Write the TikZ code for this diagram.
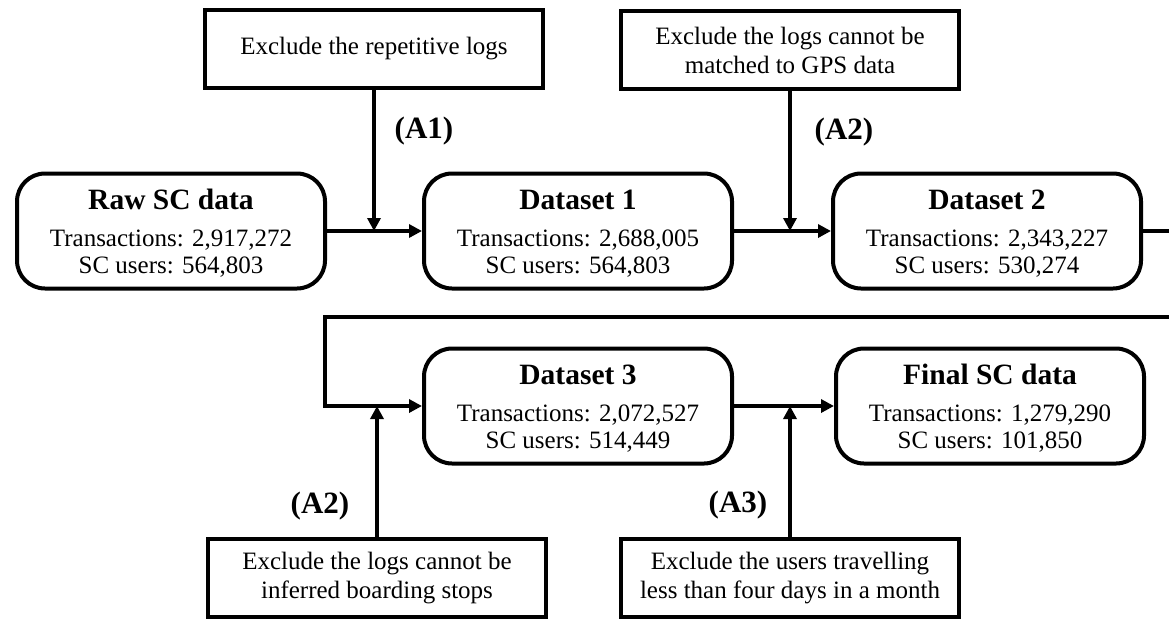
\documentclass[tikz,border=0pt]{standalone}
\usepackage{fontspec}
\setmainfont{Liberation Serif}
\usetikzlibrary{arrows.meta}
% heading line of a stage box, with a strut that sets the space above it
\newcommand{\stagehead}[1]{\rule{0pt}{25.5pt}{\fontsize{29.5}{31}\selectfont\bfseries #1}}
\begin{document}
\begin{tikzpicture}[x=1pt,y=-1pt,
  stage/.style={draw,line width=4pt,rounded corners=28pt,minimum width=308pt,
    minimum height=115pt,align=center,inner sep=0pt,font=\fontsize{25}{27}\selectfont},
  rule/.style={draw,line width=4pt,minimum width=338pt,minimum height=78pt,
    align=center,inner sep=0pt,font=\fontsize{25}{29}\selectfont},
  tag/.style={font=\bfseries\fontsize{31}{33}\selectfont},
  link/.style={line width=4pt},
  arr/.style={link,-{Triangle[length=13pt,width=13pt]}}]
\useasboundingbox (0,0) rectangle (1169,619);
\clip (0,0) rectangle (1169,619);

% data stages
\node[stage] (raw) at (171,231) {\stagehead{Raw SC data}\\[10pt]
  Transactions: 2,917,272\\ SC users: 564,803};
\node[stage] (d1) at (578,231) {\stagehead{Dataset 1}\\[10pt]
  Transactions: 2,688,005\\ SC users: 564,803};
\node[stage] (d2) at (987,231) {\stagehead{Dataset 2}\\[10pt]
  Transactions: 2,343,227\\ SC users: 530,274};
\node[stage] (d3) at (578,406) {\stagehead{Dataset 3}\\[10pt]
  Transactions: 2,072,527\\ SC users: 514,449};
\node[stage] (fin) at (990,406) {\stagehead{Final SC data}\\[10pt]
  Transactions: 1,279,290\\ SC users: 101,850};

% exclusion rules
\node[rule] (t1) at (374,49) {Exclude the repetitive logs};
\node[rule] (t2) at (790,50) {Exclude the logs cannot be\\matched to GPS data};
\node[rule] (b1) at (377,578) {Exclude the logs cannot be\\inferred boarding stops};
\node[rule] (b2) at (790,578) {Exclude the users travelling\\less than four days in a month};

% step labels
\node[tag] (la1) at (424,131) {(A1)};
\node[tag] (la2) at (844,132) {(A2)};
\node[tag] (lb2) at (320,506) {(A2)};
\node[tag] (lb3) at (738,505) {(A3)};

% flow between stages
\draw[arr] (raw.east) -- (d1.west);
\draw[arr] (d1.east) -- (d2.west);
\coordinate (r1) at (1190,231);
\coordinate (l1) at (325,317);
\draw[arr] (d2.east) -- (r1) |- (l1) |- (d3.west);
\draw[arr] (d3.east) -- (fin.west);

% rules feeding into the flow
\draw[arr] (t1.south) -- (t1.south |- raw.east);
\draw[arr] (t2.south) -- (t2.south |- d1.east);
\draw[arr] (b1.north) -- (b1.north |- d3.west);
\draw[arr] (b2.north) -- (b2.north |- d3.east);
\end{tikzpicture}
\end{document}
